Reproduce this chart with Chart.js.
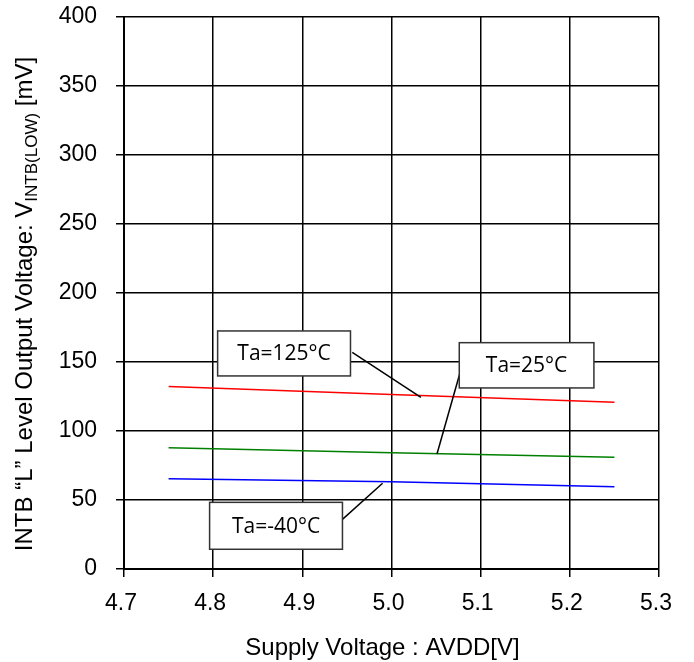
<!DOCTYPE html>
<html>
<head>
<meta charset="utf-8">
<script src="https://cdn.jsdelivr.net/npm/chart.js@4.4.1/dist/chart.umd.min.js"></script>
<style>
  body { margin: 0; background: #fff; }
  #wrap { width: 694px; height: 662px; }
</style>
</head>
<body>
<div id="wrap"><canvas id="chart" width="694" height="662"></canvas></div>
<script>
// supply voltage points [V]
const avdd = [4.75, 5.0, 5.25];
// INTB low output voltage [mV]
const ta125 = [132.2, 126.5, 120.8];
const ta25 = [87.9, 84.3, 80.9];
const taM40 = [65.4, 63.3, 59.6];

const xTicks = [4.7, 4.8, 4.9, 5.0, 5.1, 5.2, 5.3];
const yTicks = [0, 50, 100, 150, 200, 250, 300, 350, 400];

// label boxes, in axis units: [x1, x2, yTop, yBottom], leader from -> to
const notes = [
  { text: "Ta=125°C", box: [4.805, 4.954, 172.5, 139.9], from: [4.956, 157.0], to: [5.033, 124.4] },
  { text: "Ta=25°C", box: [5.076, 5.227, 164.0, 131.2], from: [5.079, 147.1], to: [5.051, 83.3] },
  { text: "Ta=-40°C", box: [4.796, 4.945, 48.3, 14.3], from: [4.940, 33.1], to: [4.990, 62.1] },
];

const toPts = (vals) => avdd.map((v, i) => ({ x: v, y: vals[i] }));

const FONT = "'Liberation Sans', Arial, sans-serif";
Chart.defaults.font.family = FONT;
Chart.defaults.font.size = 23;
Chart.defaults.color = "#000";

const notesPlugin = {
  id: "notes",
  afterDatasetsDraw(chart) {
    const { ctx, scales: { x, y } } = chart;
    ctx.save();
    notes.forEach((n) => {
      const x1 = x.getPixelForValue(n.box[0]);
      const x2 = x.getPixelForValue(n.box[1]);
      const y1 = y.getPixelForValue(n.box[2]);
      const y2 = y.getPixelForValue(n.box[3]);
      // leader line
      ctx.strokeStyle = "#000";
      ctx.lineWidth = 1.5;
      ctx.beginPath();
      ctx.moveTo(x.getPixelForValue(n.from[0]), y.getPixelForValue(n.from[1]));
      ctx.lineTo(x.getPixelForValue(n.to[0]), y.getPixelForValue(n.to[1]));
      ctx.stroke();
      // box
      ctx.fillStyle = "#fff";
      ctx.fillRect(x1, y1, x2 - x1, y2 - y1);
      ctx.strokeStyle = "#333";
      ctx.lineWidth = 1.5;
      ctx.strokeRect(x1, y1, x2 - x1, y2 - y1);
      ctx.fillStyle = "#000";
      ctx.font = "21px 'Open Sans', sans-serif";
      ctx.textAlign = "center";
      ctx.textBaseline = "middle";
      ctx.fillText(n.text, (x1 + x2) / 2, (y1 + y2) / 2 + 1);
    });
    ctx.restore();
  },
  afterDraw(chart) {
    const { ctx } = chart;
    ctx.save();
    ctx.fillStyle = "#000";
    ctx.textBaseline = "alphabetic";

    // x axis title
    ctx.font = "24px " + FONT;
    ctx.textAlign = "center";
    ctx.fillText("Supply Voltage : AVDD[V]", 382.5, 655);

    // y axis title with subscript
    const big = "24px " + FONT;
    const small = "17px " + FONT;
    const parts = [
      { t: "INTB \u201CL\u201D Level Output Voltage: V", f: big, dy: 0 },
      { t: "INTB(LOW)", f: small, dy: 5 },
      { t: " [mV]", f: big, dy: 0 },
    ];
    let total = 0;
    parts.forEach((p) => { ctx.font = p.f; p.w = ctx.measureText(p.t).width; total += p.w; });
    ctx.translate(32, 304);
    ctx.rotate(-Math.PI / 2);
    ctx.textAlign = "left";
    let cx = -total / 2;
    parts.forEach((p) => {
      ctx.font = p.f;
      ctx.fillText(p.t, cx, p.dy);
      cx += p.w;
    });
    ctx.restore();
  },
};

new Chart(document.getElementById("chart"), {
  type: "line",
  data: {
    datasets: [
      { label: "Ta=125°C", data: toPts(ta125), borderColor: "#ff0000", borderWidth: 1.5, pointRadius: 0, fill: false },
      { label: "Ta=25°C", data: toPts(ta25), borderColor: "#008000", borderWidth: 1.5, pointRadius: 0, fill: false },
      { label: "Ta=-40°C", data: toPts(taM40), borderColor: "#0000ff", borderWidth: 1.5, pointRadius: 0, fill: false },
    ],
  },
  options: {
    responsive: false,
    animation: false,
    layout: { padding: { left: 0, top: 17, right: 35, bottom: 0 } },
    plugins: { legend: { display: false }, tooltip: { enabled: false } },
    scales: {
      x: {
        type: "linear",
        min: 4.7,
        max: 5.3,
        afterBuildTicks: (s) => { s.ticks = xTicks.map((v) => ({ value: v })); },
        afterFit: (s) => { s.height = 93; s.paddingLeft = 0; s.paddingRight = 0; },
        ticks: { padding: 13, labelOffset: -3, callback: (v) => v.toFixed(1) },
        grid: { color: "#000", lineWidth: 1.5, tickLength: 8 },
        border: { color: "#000", width: 2 },
      },
      y: {
        min: 0,
        max: 400,
        afterBuildTicks: (s) => { s.ticks = yTicks.map((v) => ({ value: v })); },
        afterFit: (s) => { s.width = 124; s.paddingTop = 0; s.paddingBottom = 0; },
        ticks: { padding: 19 },
        grid: { color: "#000", lineWidth: 1.5, tickLength: 8 },
        border: { color: "#000", width: 2 },
      },
    },
  },
  plugins: [notesPlugin],
});
</script>
</body>
</html>
